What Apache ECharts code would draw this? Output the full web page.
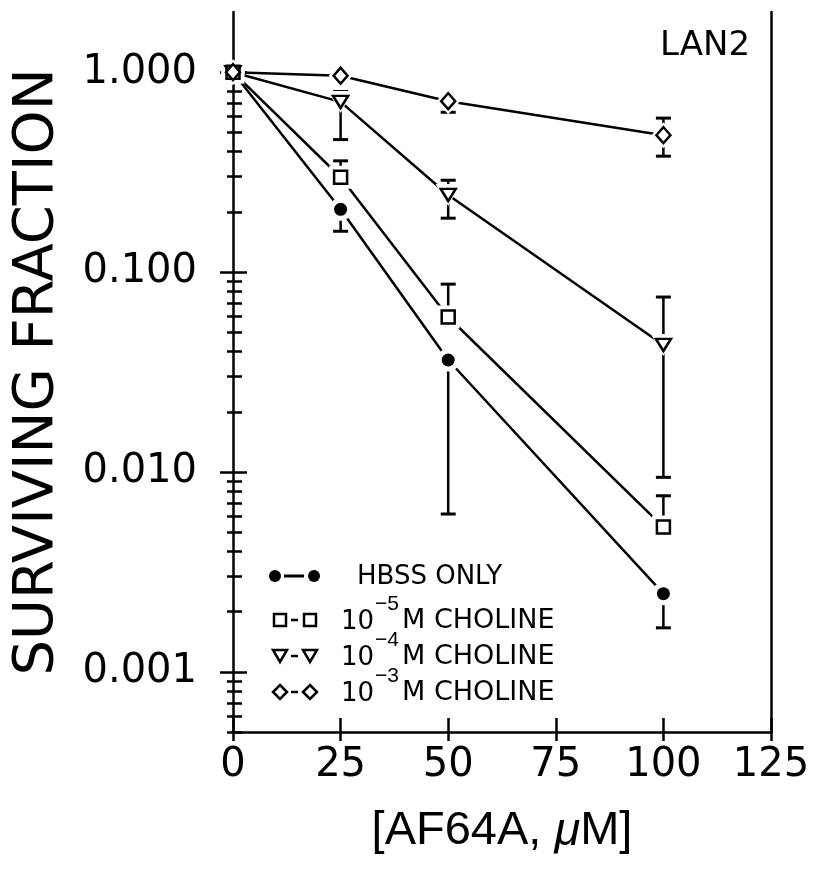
<!DOCTYPE html>
<html><head><meta charset="utf-8">
<script src="https://cdn.jsdelivr.net/npm/echarts@6/dist/echarts.min.js"></script>
<style>html,body{margin:0;padding:0;background:#fff}#c{width:822px;height:873px}</style>
</head><body><div id="c"></div>
<script>
// ---- data ----
const doses = [0, 25, 50, 100];
const hbss   = [1.0, 0.206, 0.0363, 0.00246];
const hbssLo = [null, 0.160, 0.00616, 0.00166];
const hbssHi = [null, null, null, null];
const chol5   = [1.0, 0.298, 0.0596, 0.0053];
const chol5Lo = [null, null, null, null];
const chol5Hi = [null, 0.36, 0.087, 0.0076];
const chol4   = [1.0, 0.71, 0.243, 0.0432];
const chol4Lo = [null, 0.46, 0.186, 0.0094];
const chol4Hi = [null, 0.80, 0.288, 0.075];
const chol3   = [1.0, 0.96, 0.716, 0.484];
const chol3Lo = [null, null, 0.63, 0.38];
const chol3Hi = [null, null, null, 0.589];
const xTicks = [0, 25, 50, 75, 100, 125];
const yMajor = [0.001, 0.01, 0.1, 1];
const yMinor = [0.0005, 0.0006, 0.0007, 0.0008, 0.0009,
  0.002, 0.003, 0.004, 0.005, 0.006, 0.007, 0.008, 0.009,
  0.02, 0.03, 0.04, 0.05, 0.06, 0.07, 0.08, 0.09,
  0.2, 0.3, 0.4, 0.5, 0.6, 0.7, 0.8, 0.9];
const legendLabels = ['HBSS ONLY', 'M CHOLINE', 'M CHOLINE', 'M CHOLINE'];
const legendExp = [null, '−5', '−4', '−3'];
const chartTag = 'LAN2';
const yTitle = 'SURVIVING FRACTION';

const FONT = 'DejaVu Sans';
const chart = echarts.init(document.getElementById('c'));

const sets = [
  {v:hbss, lo:hbssLo, hi:hbssHi, sym:'circle', size:13, fill:'#000', rot:0},
  {v:chol5, lo:chol5Lo, hi:chol5Hi, sym:'rect', size:13, fill:'#fff', rot:0},
  {v:chol4, lo:chol4Lo, hi:chol4Hi, sym:'triangle', size:[15,12], fill:'#fff', rot:180},
  {v:chol3, lo:chol3Lo, hi:chol3Hi, sym:'diamond', size:[14,16], fill:'#fff', rot:0}
];

function errRender(lo, hi){
  return function(params, api){
    const i = params.dataIndex;
    const x = api.value(0), m = api.value(1);
    const pm = api.coord([x, m]);
    const ch = [];
    [lo[i], hi[i]].forEach(function(v){
      if (v == null) return;
      const p = api.coord([x, v]);
      ch.push({type:'line', shape:{x1:pm[0], y1:pm[1], x2:p[0], y2:p[1]}, style:{stroke:'#000', lineWidth:2.5}});
      ch.push({type:'line', shape:{x1:p[0]-7.5, y1:p[1], x2:p[0]+7.5, y2:p[1]}, style:{stroke:'#000', lineWidth:3}});
    });
    return {type:'group', children:ch};
  };
}

const series = [];
sets.forEach(function(s){
  const pts = doses.map(function(d,i){ return [d, s.v[i]]; });
  series.push({type:'line', data:pts, symbol:'none', lineStyle:{color:'#000', width:2.5}, z:2, silent:true, animation:false});
  series.push({type:'custom', data:pts, renderItem:errRender(s.lo, s.hi), z:3, silent:true, animation:false});
});
sets.forEach(function(s){
  const pts = doses.map(function(d,i){ return [d, s.v[i]]; });
  const halo = Array.isArray(s.size) ? [s.size[0]+10, s.size[1]+10] : s.size+10;
  series.push({type:'scatter', data:pts, symbol:s.sym, symbolSize:halo, symbolRotate:s.rot,
    itemStyle:{color:'#fff', opacity:1}, z:4, silent:true, animation:false});
});
sets.forEach(function(s){
  const pts = doses.map(function(d,i){ return [d, s.v[i]]; });
  series.push({type:'scatter', data:pts, symbol:s.sym, symbolSize:s.size, symbolRotate:s.rot,
    itemStyle:{color:s.fill, borderColor:'#000', borderWidth:s.fill==='#000'?0:2.5, opacity:1}, z:5, silent:true, animation:false});
});

const yBase = {type:'log', logBase:10, min:0.0005, max:2, position:'left', splitLine:{show:false},
  axisLine:{show:false}, axisLabel:{show:false}};

// legend via graphic
const legRows = [576, 620, 656, 692];
const legendGraphic = [];
const lx1 = [275, 280, 280, 280], lx2 = [314, 310, 310, 310];
sets.forEach(function(s, k){
  const y = legRows[k];
  [lx1[k], lx2[k]].forEach(function(cx){
    let shape;
    if (s.sym === 'circle') shape = {type:'circle', shape:{cx:cx, cy:y, r:6}, style:{fill:'#000'}};
    else if (s.sym === 'rect') shape = {type:'rect', shape:{x:cx-6, y:y-6, width:12, height:12}, style:{fill:'#fff', stroke:'#000', lineWidth:2.5}};
    else if (s.sym === 'triangle') shape = {type:'polygon', shape:{points:[[cx-7,y-6],[cx+7,y-6],[cx,y+6]]}, style:{fill:'#fff', stroke:'#000', lineWidth:2.5}};
    else shape = {type:'polygon', shape:{points:[[cx,y-7],[cx+7,y],[cx,y+7],[cx-7,y]]}, style:{fill:'#fff', stroke:'#000', lineWidth:2.5}};
    legendGraphic.push(shape);
  });
  if (k === 0) legendGraphic.push({type:'line', shape:{x1:284, y1:y, x2:304, y2:y}, style:{stroke:'#000', lineWidth:3}});
  else legendGraphic.push({type:'line', shape:{x1:291, y1:y, x2:298, y2:y}, style:{stroke:'#000', lineWidth:2.5}});
  if (legendExp[k] == null) {
    legendGraphic.push({type:'text', x:357, y:y+1, style:{text:legendLabels[k], font:'26px "DejaVu Sans"', fill:'#000', verticalAlign:'middle'}});
  } else {
    legendGraphic.push({type:'text', x:341, y:y+2, style:{text:'10', font:'26px "DejaVu Sans"', fill:'#000', verticalAlign:'middle'}});
    legendGraphic.push({type:'text', x:375, y:y-16, style:{text:legendExp[k], font:'21px "Liberation Sans"', fill:'#000', verticalAlign:'middle'}});
    legendGraphic.push({type:'text', x:402, y:y+1, style:{text:legendLabels[k], font:'27px "DejaVu Sans"', fill:'#000', verticalAlign:'middle'}});
  }
});
legendGraphic.push({type:'text', x:705, y:46, style:{text:chartTag, font:'34px "DejaVu Sans"', fill:'#000', align:'center', verticalAlign:'middle'}});

chart.setOption({
  backgroundColor:'#fff',
  animation:false,
  textStyle:{fontFamily:FONT, color:'#000'},
  grid:{left:233, right:51, top:12, bottom:141, containLabel:false},
  xAxis:[
    {type:'value', min:0, max:125, interval:25, position:'bottom',
     axisLine:{show:true, lineStyle:{color:'#000', width:2.5}},
     axisTick:{show:true, inside:true, length:14, lineStyle:{color:'#000', width:2.5}},
     axisLabel:{show:true, fontSize:40, fontFamily:FONT, color:'#000', margin:14},
     splitLine:{show:false},
     name:'[AF64A, {i|μ}M]', nameLocation:'middle', nameGap:76,
     nameTextStyle:{fontSize:47, fontFamily:'Liberation Sans', color:'#000', rich:{i:{fontSize:47, fontStyle:'italic', fontFamily:'Liberation Sans', color:'#000'}}}},
    {type:'value', min:0, max:125, interval:25, position:'bottom',
     axisLine:{show:false}, axisTick:{show:true, inside:false, length:9, lineStyle:{color:'#000', width:2.5}},
     axisLabel:{show:false}, splitLine:{show:false}}
  ],
  yAxis:[
    Object.assign({}, yBase, {axisLine:{show:true, lineStyle:{color:'#000', width:2.5}},
      axisTick:{show:true, inside:true, length:14, customValues:yMajor, lineStyle:{color:'#000', width:2.5}},
      axisLabel:{show:true, customValues:yMajor, formatter:function(v){return Number(v).toFixed(3);}, fontSize:40, fontFamily:FONT, color:'#000', margin:36},
      name:yTitle, nameLocation:'middle', nameGap:168, nameTextStyle:{fontSize:56, fontFamily:FONT, color:'#000'}}),
    Object.assign({}, yBase, {axisTick:{show:true, inside:false, length:13, customValues:yMajor, lineStyle:{color:'#000', width:2.5}}}),
    Object.assign({}, yBase, {axisTick:{show:true, inside:true, length:9, customValues:yMinor, lineStyle:{color:'#000', width:2.5}}}),
    Object.assign({}, yBase, {axisTick:{show:true, inside:false, length:6, customValues:yMinor, lineStyle:{color:'#000', width:2.5}}}),
    Object.assign({}, yBase, {position:'right', axisLine:{show:true, lineStyle:{color:'#000', width:2.5}}, axisTick:{show:false}})
  ],
  series: series,
  graphic: legendGraphic
});
</script></body></html>
